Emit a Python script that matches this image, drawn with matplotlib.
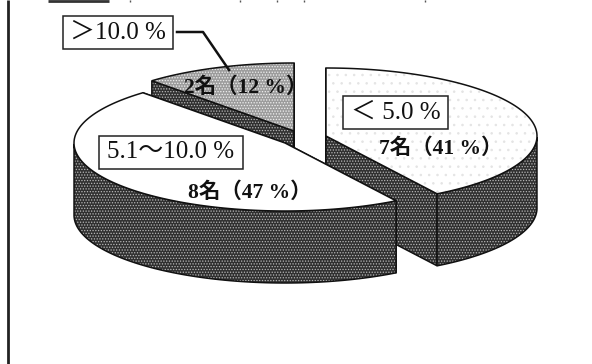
#!/usr/bin/env python3

import matplotlib
matplotlib.use("Agg")
import matplotlib.pyplot as plt
import numpy as np
from matplotlib.patches import Polygon, Rectangle

plt.rcParams['font.family'] = ['Liberation Serif', 'Noto Sans CJK JP']
plt.rcParams['hatch.linewidth'] = 0.6

groups = ['＜ 5.0 %', '5.1〜10.0 %', '＞10.0 %']
counts = [7, 8, 2]
percents = [41, 47, 12]

W, H = 592, 364
RX, RY = 211, 68
DEPTH = 72
# apex of each exploded slice, in page pixels from the top left
apexes = [(326, 136), (285, 143), (294, 131)]
# face colour, dot colour, dot pattern for the top of each slice
tops = [('white', '#e4e4e4', '..'), ('white', 'white', None), ('#9c9c9c', '#f0f0f0', '......')]
WALL = ('#303030', '#b8b8b8', '......')


def slice_angles():
    # slices run clockwise from twelve o'clock, sized by head count
    fractions = np.array(counts) / sum(counts)
    edges = 90 - 360 * np.concatenate([[0], np.cumsum(fractions)])
    return list(zip(edges[:-1], edges[1:]))


def arc(apex, a0, a1, n=120):
    t = np.radians(np.linspace(a0, a1, n))
    return np.column_stack([apex[0] + RX * np.cos(t), apex[1] + RY * np.sin(t)])


def shaded(ax, pts, style, z):
    # dot-screen fill with a separate outline on top
    fc, dot, hatch = style
    ax.add_patch(Polygon(pts, closed=True, fc=fc, ec=dot, lw=0, hatch=hatch, zorder=z))
    ax.add_patch(Polygon(pts, closed=True, fill=False, ec='#111111', lw=1.1, zorder=z))


def draw_slice(ax, apex, a0, a1, top_style, z):
    pts = arc(apex, a0, a1)
    down = np.array([0, -DEPTH])
    apex = np.array(apex, dtype=float)

    # radial walls, painted before the rim and the top
    for end in (pts[0], pts[-1]):
        shaded(ax, [apex, end, end + down, apex + down], WALL, z)

    # outer rim: only the part of the arc facing the viewer
    t = np.linspace(a0, a1, 120)
    front = pts[np.sin(np.radians(t)) <= 0]
    if len(front):
        shaded(ax, np.vstack([front, (front + down)[::-1]]), WALL, z)

    shaded(ax, np.vstack([[apex], pts]), top_style, z)


def flip(y):
    return H - y


fig = plt.figure(figsize=(W / 100, H / 100), dpi=100)
ax = fig.add_axes([0, 0, 1, 1])
ax.set_xlim(0, W)
ax.set_ylim(0, H)
ax.axis('off')

apexes = [(x, flip(y)) for x, y in apexes]
angles = slice_angles()

# back slice first so the nearer ones overlap it
for z, i in enumerate((2, 0, 1), start=2):
    draw_slice(ax, apexes[i], angles[i][0], angles[i][1], tops[i], z)

# frame fragments
ax.plot([7.5, 7.5], [0, H], color='#222222', lw=2.0, solid_capstyle='butt', zorder=1)
ax.plot([48, 109], [H - 0.5, H - 0.5], color='#333333', lw=2.0, solid_capstyle='butt', zorder=1)
for x in (130, 240, 277, 304, 425):
    ax.plot([x, x], [H - 1.5, H], color='#555555', lw=1.0, solid_capstyle='butt', zorder=1)


def label_box(text, x0, y0, x1, y1):
    ax.add_patch(Rectangle((x0, flip(y1)), x1 - x0, y1 - y0, fc='white', ec='#222222', lw=1.1, zorder=6))
    ax.text((x0 + x1) / 2, flip((y0 + y1) / 2), text, fontsize=18, ha='center', va='center',
            color='#111111', zorder=7)


label_box(groups[2], 63, 16, 173, 49)
label_box(groups[1], 99, 136, 243, 169)
label_box(groups[0], 343, 96, 448, 129)

# leader from the small slice to its label
ax.plot([177, 203, 229], [flip(32), flip(32), flip(70)], color='#111111', lw=1.8, zorder=6)

count_label = dict(fontsize=15.5, fontweight='bold', ha='center', va='center', color='#111111', zorder=7)
ax.text(246, flip(88), f'{counts[2]}名（{percents[2]} %）', **count_label)
ax.text(441, flip(149), f'{counts[0]}名（{percents[0]} %）', **count_label)
ax.text(250, flip(193), f'{counts[1]}名（{percents[1]} %）', **count_label)

fig.savefig('out.png', dpi=100)
